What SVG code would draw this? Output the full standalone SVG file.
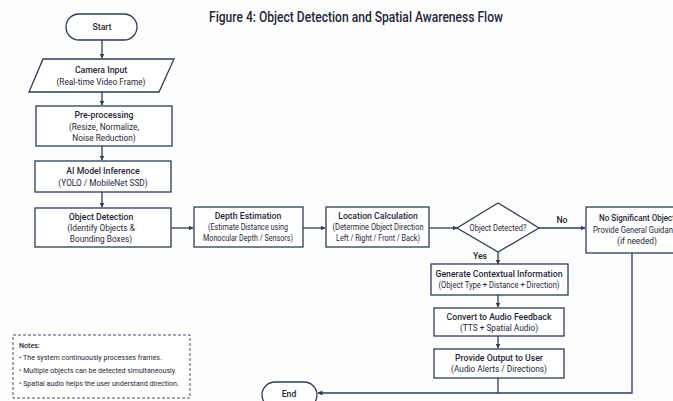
<svg xmlns="http://www.w3.org/2000/svg" width="673" height="401" viewBox="0 0 673 401">
<style>
.box{fill:#fff;stroke:#2e3d57;stroke-width:1.3}
.ln{fill:none;stroke:#2e3d57;stroke-width:1.3}
.t{font-family:Roboto,"Liberation Sans",sans-serif;fill:#1f2737;text-anchor:middle}
.b{font-size:8.7px;font-weight:500}
.r{font-size:8.3px}
.n{font-family:Roboto,"Liberation Sans",sans-serif;fill:#1f2737;font-size:7.1px}
</style>
<defs>
<marker id="ar" viewBox="0 0 10 10" refX="9" refY="5" markerWidth="5" markerHeight="5" orient="auto" markerUnits="userSpaceOnUse">
<path d="M0,0 L10,5 L0,10 z" fill="#2e3d57"/>
</marker>
</defs>
<rect width="673" height="401" fill="#fdfdfd"/>
<text x="209" y="22" font-family="Roboto,'Liberation Sans',sans-serif" font-size="14" font-weight="500" fill="#1f2737" textLength="294" lengthAdjust="spacingAndGlyphs">Figure 4: Object Detection and Spatial Awareness Flow</text>

<g id="connectors">
<line class="ln" x1="102" y1="40" x2="102" y2="58" marker-end="url(#ar)"/>
<line class="ln" x1="102" y1="92" x2="102" y2="105" marker-end="url(#ar)"/>
<line class="ln" x1="102" y1="146" x2="102" y2="160" marker-end="url(#ar)"/>
<line class="ln" x1="102" y1="192" x2="102" y2="207" marker-end="url(#ar)"/>
<line class="ln" x1="171" y1="228" x2="193" y2="228" marker-end="url(#ar)"/>
<line class="ln" x1="303" y1="228" x2="325" y2="228" marker-end="url(#ar)"/>
<line class="ln" x1="429" y1="228" x2="457" y2="228" marker-end="url(#ar)"/>
<line class="ln" x1="539" y1="228" x2="585" y2="228" marker-end="url(#ar)"/>
<line class="ln" x1="498" y1="252" x2="498" y2="264" marker-end="url(#ar)"/>
<line class="ln" x1="498" y1="295" x2="498" y2="307" marker-end="url(#ar)"/>
<line class="ln" x1="498" y1="336" x2="498" y2="348" marker-end="url(#ar)"/>
<polyline class="ln" points="498,378 498,393"/>
<polyline class="ln" points="632,253 632,393 318,393" marker-end="url(#ar)"/>
<text x="562" y="223" class="t b">No</text>
<text x="480" y="259" class="t b">Yes</text>
</g>

<g id="start">
<rect class="box" x="66" y="14" width="71" height="26" rx="13"/>
<text x="102" y="30" class="t b">Start</text>
</g>
<g id="camera">
<polygon class="box" points="43,59 174,59 159,92 29,92"/>
<text x="101" y="73" class="t b">Camera Input</text>
<text x="101" y="85" class="t r">(Real-time Video Frame)</text>
</g>
<g id="preprocessing">
<rect class="box" x="36" y="106" width="136" height="40"/>
<text x="104" y="118" class="t b">Pre-processing</text>
<text x="104" y="130" class="t r">(Resize, Normalize,</text>
<text x="104" y="141" class="t r">Noise Reduction)</text>
</g>
<g id="inference">
<rect class="box" x="35" y="161" width="136" height="31"/>
<text x="103" y="174" class="t b">AI Model Inference</text>
<text x="103" y="186" class="t r">(YOLO / MobileNet SSD)</text>
</g>
<g id="detection">
<rect class="box" x="35" y="208" width="136" height="39"/>
<text x="101" y="220" class="t b">Object Detection</text>
<text x="101" y="231" class="t r">(Identify Objects &amp;</text>
<text x="101" y="242" class="t r">Bounding Boxes)</text>
</g>
<g id="depth">
<rect class="box" x="194" y="207" width="109" height="40"/>
<text x="248" y="219" class="t b">Depth Estimation</text>
<text x="248" y="230" class="t r" textLength="80" lengthAdjust="spacingAndGlyphs">(Estimate Distance using</text>
<text x="248" y="241" class="t r" textLength="90" lengthAdjust="spacingAndGlyphs">Monocular Depth / Sensors)</text>
</g>
<g id="location">
<rect class="box" x="326" y="207" width="103" height="40"/>
<text x="378" y="219" class="t b">Location Calculation</text>
<text x="378" y="230" class="t r" textLength="91" lengthAdjust="spacingAndGlyphs">(Determine Object Direction</text>
<text x="378" y="241" class="t r" textLength="84" lengthAdjust="spacingAndGlyphs">Left / Right / Front / Back)</text>
</g>
<g id="decision">
<polygon class="box" points="498,203 539,228 498,252 457,228"/>
<text x="498" y="231" class="t r" textLength="57" lengthAdjust="spacingAndGlyphs">Object Detected?</text>
</g>
<g id="noobject">
<rect class="box" x="586" y="207" width="100" height="46"/>
<text x="637" y="221" class="t b" textLength="76" lengthAdjust="spacingAndGlyphs">No Significant Object</text>
<text x="637" y="233" class="t r" textLength="88" lengthAdjust="spacingAndGlyphs">Provide General Guidance</text>
<text x="637" y="244" class="t r">(if needed)</text>
</g>
<g id="contextual">
<rect class="box" x="431" y="264" width="137" height="31"/>
<text x="499" y="277" class="t b">Generate Contextual Information</text>
<text x="499" y="288" class="t r" textLength="121" lengthAdjust="spacingAndGlyphs">(Object Type + Distance + Direction)</text>
</g>
<g id="audio">
<rect class="box" x="434" y="308" width="130" height="28"/>
<text x="499" y="320" class="t b">Convert to Audio Feedback</text>
<text x="499" y="331" class="t r">(TTS + Spatial Audio)</text>
</g>
<g id="output">
<rect class="box" x="434" y="349" width="130" height="29"/>
<text x="499" y="361" class="t b">Provide Output to User</text>
<text x="499" y="372" class="t r">(Audio Alerts / Directions)</text>
</g>
<g id="end">
<rect class="box" x="262" y="382" width="55" height="26" rx="13"/>
<text x="289" y="397" class="t b">End</text>
</g>
<g id="notes">
<rect x="13" y="335" width="177" height="63" fill="#fff" stroke="#2e3d57" stroke-width="0.9" stroke-dasharray="3,2"/>
<text x="19" y="348" class="n" font-weight="500" font-size="7.8">Notes:</text>
<text x="19" y="360" class="n">•  The system continuously processes frames.</text>
<text x="19" y="373" class="n">•  Multiple objects can be detected simultaneously.</text>
<text x="19" y="386" class="n">•  Spatial audio helps the user understand direction.</text>
</g>
</svg>
